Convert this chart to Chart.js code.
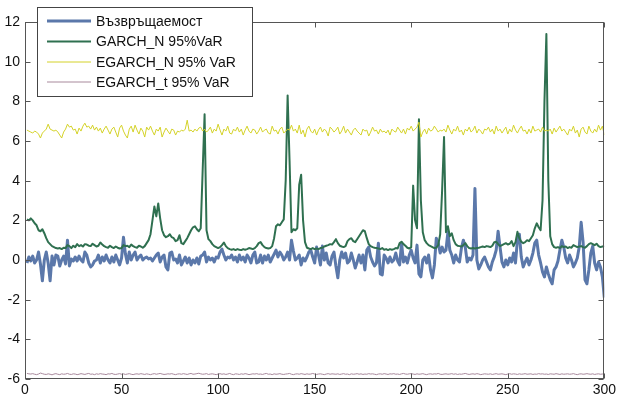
<!DOCTYPE html>
<html>
<head>
<meta charset="utf-8">
<script src="https://cdn.jsdelivr.net/npm/chart.js@4.4.1/dist/chart.umd.min.js"></script>
<style>
  html, body { margin: 0; padding: 0; background: #fff; }
  #wrap { width: 619px; height: 400px; }
</style>
</head>
<body>
<div id="wrap"><canvas id="myChart" width="619" height="400"></canvas></div>
<script>
// series names (legend)
const seriesLabels = ['Възвръщаемост', 'GARCH_N 95%VaR', 'EGARCH_N 95% VaR', 'EGARCH_t 95% VaR'];

// returns, t = 1..300
const returns = [
  -0.15,0.15,-0.05,0.2,-0.15,0.0,0.4,-0.2,-1.05,0.0,
  0.4,-0.15,-1.05,0.2,-0.25,0.25,0.2,-0.3,0.0,0.2,
  -0.2,1.0,-0.3,0.05,-0.05,0.15,-0.05,0.2,0.0,-0.1,
  0.4,0.25,-0.15,-0.35,-0.25,-0.05,0.0,0.25,-0.15,0.15,
  -0.05,0.25,0.0,-0.15,0.15,-0.1,0.25,0.0,-0.25,0.1,
  1.15,0.3,-0.15,0.4,0.0,0.25,0.4,0.0,0.15,0.25,
  0.0,0.1,0.15,0.05,0.1,-0.05,0.1,0.25,0.35,-0.1,
  0.15,0.25,-0.35,-0.5,0.35,0.4,0.0,0.05,-0.15,0.25,
  -0.25,-0.05,0.15,-0.15,0.1,-0.25,0.0,-0.15,0.1,-0.2,
  0.2,0.25,0.4,-0.1,0.15,0.0,0.1,-0.1,0.15,0.1,
  0.4,0.55,0.25,0.0,0.15,0.1,0.25,0.0,0.15,-0.1,
  0.25,0.0,0.15,-0.1,0.25,0.1,-0.15,0.25,0.4,-0.15,
  -0.1,0.25,-0.15,0.2,0.0,0.25,-0.1,0.1,0.3,0.5,
  0.15,0.4,0.25,0.0,0.15,0.4,0.0,1.0,0.45,0.0,
  0.1,0.25,-0.25,0.1,-0.05,0.15,0.4,0.5,0.15,-0.15,
  0.65,0.25,-0.25,0.7,0.0,0.35,-0.15,-0.25,0.2,0.4,
  -0.3,-0.9,0.0,0.4,0.1,0.35,-0.15,-0.05,0.35,0.0,
  -0.4,-0.1,0.25,-0.15,0.25,-0.5,0.5,0.65,0.15,-0.1,
  -0.3,-0.15,0.85,-0.7,-0.75,0.25,0.1,-0.15,0.15,-0.1,
  0.0,0.35,-0.05,-0.25,0.85,-0.1,0.15,-0.15,0.25,0.5,
  0.1,-0.15,0.75,-0.7,-0.85,0.0,0.15,-0.15,0.25,-0.5,
  -0.9,-0.25,1.1,0.85,0.35,0.65,0.4,0.5,1.4,0.5,
  0.25,-0.15,0.25,0.0,-0.1,0.6,1.0,0.65,-0.1,0.1,
  0.0,0.25,3.6,0.0,-0.45,-0.25,0.0,0.15,-0.1,-0.35,
  -0.5,-0.1,0.15,0.5,1.45,0.65,-0.1,-0.35,0.0,-0.25,
  0.1,-0.1,0.35,-0.15,1.0,1.3,0.15,-0.35,-0.1,0.1,
  -0.25,0.0,0.35,0.85,1.0,0.25,-0.15,-0.6,-0.85,-0.35,
  -0.7,-1.0,-1.2,-0.5,-0.35,-0.05,0.5,1.0,0.65,0.1,
  -0.15,0.25,0.0,-0.35,-0.15,0.1,0.65,1.9,0.9,-1.0,
  -1.2,-0.5,0.35,0.7,-0.15,-0.5,-0.1,-0.35,-0.85,-1.9
];

const garchN = [
  2.05,2.0,2.1,2.0,1.85,1.75,1.5,1.45,1.55,1.35,
  1.1,0.9,0.8,0.7,0.65,0.6,0.58,0.6,0.55,0.62,
  0.6,0.75,0.7,0.6,0.72,0.65,0.8,0.7,0.75,0.68,
  0.8,0.78,0.72,0.7,0.82,0.75,0.68,0.72,0.88,0.78,
  0.7,0.65,0.62,0.72,0.65,0.6,0.68,0.62,0.58,0.6,
  0.75,0.7,0.72,0.65,0.78,0.7,0.65,0.62,0.72,0.68,
  0.62,0.7,0.85,1.0,1.3,2.0,2.7,2.2,2.85,2.1,
  1.5,1.25,1.15,1.2,1.3,1.15,1.1,0.95,1.0,1.25,
  0.85,0.8,0.95,1.1,1.3,1.5,1.65,1.7,1.55,1.45,
  1.6,4.5,7.35,1.5,1.05,0.95,0.8,0.7,0.65,0.6,
  0.65,0.75,0.88,0.7,0.6,0.55,0.52,0.55,0.5,0.55,
  0.52,0.5,0.55,0.52,0.55,0.6,0.58,0.55,0.6,0.7,
  0.85,0.9,0.75,0.65,0.6,0.58,0.6,0.7,1.1,1.7,
  1.8,1.75,1.9,2.05,4.0,8.3,5.0,1.4,1.55,1.5,
  1.6,3.8,4.3,2.0,0.9,0.62,0.58,0.55,0.6,0.55,
  0.58,0.55,0.6,0.62,0.68,0.72,0.75,0.8,0.78,0.9,
  1.05,0.85,0.72,0.68,0.65,0.7,0.95,1.05,1.1,0.95,
  0.9,1.05,1.2,1.35,1.5,1.45,1.1,0.8,0.7,0.65,
  0.62,0.6,0.58,0.55,0.6,0.52,0.55,0.5,0.55,0.52,
  0.55,0.6,0.58,0.85,0.92,0.8,0.72,0.62,0.58,0.65,
  3.75,2.0,1.6,7.1,3.0,1.4,1.0,0.85,0.75,0.7,
  0.65,0.6,0.62,0.75,1.3,3.5,6.2,1.4,1.7,1.2,
  1.35,1.0,0.8,0.72,0.7,0.68,0.75,0.85,0.7,0.6,
  0.58,0.6,0.58,0.6,0.62,0.65,0.68,0.65,0.7,0.68,
  0.65,0.72,0.9,0.92,0.8,0.7,0.75,0.8,0.85,0.78,
  0.82,0.95,0.7,0.9,1.42,1.1,0.92,0.85,0.9,1.0,
  0.95,1.1,1.25,1.6,1.85,1.65,1.5,3.0,8.0,11.4,
  4.0,1.2,0.8,0.65,0.62,0.65,0.6,0.7,0.65,0.68,
  0.6,0.65,0.62,0.75,0.7,0.65,0.68,0.7,0.65,0.62,
  0.7,0.8,0.85,0.8,0.75,0.82,0.7,0.65,0.68,0.7
];

const egarchN = [
  6.55,6.5,6.45,6.4,6.5,6.45,6.35,6.15,6.4,6.5,6.6,6.85,6.6,6.55,6.5,6.55,6.45,6.3,6.15,6.45,
  6.6,6.85,6.7,6.75,6.55,6.6,6.35,6.65,6.5,6.75,6.9,6.7,6.75,6.6,6.8,6.55,6.7,6.5,6.65,6.4,
  6.6,6.75,6.55,6.35,6.6,6.7,6.45,6.2,6.65,6.8,6.5,6.3,6.15,6.6,6.75,6.45,6.8,6.55,6.35,6.65,
  6.5,6.2,6.7,6.55,6.75,6.5,6.3,6.6,6.5,6.7,6.2,6.45,6.65,6.5,6.35,6.6,6.55,6.3,6.5,6.45,
  6.55,6.5,6.6,7.05,6.5,6.55,6.45,6.6,6.5,6.65,6.7,6.5,6.6,6.45,6.55,6.7,6.4,6.6,6.5,6.85,
  6.55,6.3,6.6,6.5,6.75,6.4,6.35,6.6,6.5,6.7,6.45,6.6,6.3,6.55,6.75,6.5,6.4,6.6,6.55,6.35,
  6.5,6.7,6.45,6.55,6.6,6.4,6.35,6.75,6.5,6.55,6.35,6.6,6.7,6.4,6.5,6.6,6.55,6.8,6.5,6.6,
  6.4,6.8,6.35,6.55,6.2,6.6,6.75,6.5,6.4,6.6,6.3,6.55,6.7,6.45,6.6,6.5,6.25,6.7,6.6,6.45,
  6.55,6.7,6.35,6.5,6.75,6.4,6.6,6.45,6.3,6.55,6.65,6.5,6.4,6.3,6.6,6.5,6.55,6.25,6.45,6.7,
  6.5,6.55,6.35,6.6,6.45,6.5,6.4,6.55,6.3,6.6,6.5,6.45,6.7,6.55,6.4,6.6,6.35,6.65,6.55,6.75,
  6.5,6.6,6.7,6.95,6.2,6.45,6.6,6.35,6.65,6.5,6.55,6.75,6.6,6.45,6.55,6.5,6.6,6.45,6.8,6.55,
  6.35,6.6,6.5,6.75,6.45,6.55,6.3,6.6,6.5,6.7,6.45,6.55,6.75,6.4,6.6,6.5,6.35,6.6,6.55,6.7,
  6.45,6.6,6.35,6.75,6.5,6.6,6.4,6.55,6.7,6.35,6.6,6.45,6.8,6.55,6.4,6.6,6.75,6.5,6.55,6.35,
  6.6,6.4,6.75,6.5,6.55,6.6,6.45,6.7,6.5,6.55,6.5,6.6,6.35,6.65,6.45,6.6,6.75,6.5,6.6,6.45,
  6.3,6.6,6.5,6.75,6.4,6.55,6.2,6.6,6.7,6.45,6.35,6.75,6.5,6.4,6.6,6.45,6.8,6.55,6.75,6.3
];

const egarchT = [
  -5.72,-5.74,-5.75,-5.73,-5.76,-5.78,-5.75,-5.70,-5.73,-5.76,
  -5.77,-5.74,-5.76,-5.79,-5.75,-5.73,-5.76,-5.78,-5.74,-5.76,
  -5.75,-5.72,-5.76,-5.77,-5.74,-5.75,-5.78,-5.76,-5.73,-5.75,
  -5.77,-5.74,-5.72,-5.76,-5.75,-5.78,-5.74,-5.76,-5.73,-5.75,
  -5.76,-5.78,-5.74,-5.75,-5.72,-5.76,-5.77,-5.75,-5.73,-5.76,
  -5.74,-5.77,-5.75,-5.73,-5.76,-5.78,-5.75,-5.74,-5.76,-5.73,
  -5.75,-5.77,-5.74,-5.76,-5.78,-5.75,-5.73,-5.76,-5.74,-5.72,
  -5.75,-5.77,-5.76,-5.74,-5.75,-5.73,-5.76,-5.78,-5.75,-5.74,
  -5.76,-5.73,-5.75,-5.77,-5.74,-5.72,-5.76,-5.75,-5.73,-5.71,
  -5.74,-5.76,-5.75,-5.73,-5.77,-5.75,-5.74,-5.76,-5.78,-5.75,
  -5.73,-5.76,-5.74,-5.77,-5.75,-5.72,-5.76,-5.78,-5.74,-5.75,
  -5.77,-5.74,-5.76,-5.73,-5.75,-5.78,-5.76,-5.74,-5.75,-5.73,
  -5.76,-5.75,-5.77,-5.74,-5.72,-5.76,-5.75,-5.78,-5.74,-5.76,
  -5.75,-5.73,-5.76,-5.77,-5.75,-5.74,-5.72,-5.76,-5.78,-5.75,
  -5.74,-5.76,-5.73,-5.75,-5.77,-5.74,-5.76,-5.75,-5.72,-5.75,
  -5.77,-5.75,-5.74,-5.76,-5.78,-5.75,-5.73,-5.76,-5.74,-5.75,
  -5.76,-5.74,-5.77,-5.75,-5.73,-5.76,-5.75,-5.78,-5.74,-5.76,
  -5.75,-5.73,-5.76,-5.74,-5.77,-5.75,-5.76,-5.73,-5.75,-5.74,
  -5.76,-5.78,-5.75,-5.74,-5.76,-5.73,-5.75,-5.77,-5.74,-5.75,
  -5.73,-5.76,-5.75,-5.77,-5.74,-5.72,-5.75,-5.76,-5.74,-5.73,
  -5.75,-5.77,-5.74,-5.76,-5.75,-5.73,-5.76,-5.78,-5.75,-5.74,
  -5.76,-5.74,-5.75,-5.72,-5.76,-5.77,-5.75,-5.74,-5.76,-5.75,
  -5.73,-5.76,-5.74,-5.77,-5.75,-5.76,-5.74,-5.72,-5.75,-5.77,
  -5.75,-5.74,-5.76,-5.73,-5.75,-5.78,-5.76,-5.74,-5.75,-5.76,
  -5.74,-5.77,-5.75,-5.73,-5.76,-5.75,-5.74,-5.76,-5.78,-5.75,
  -5.73,-5.76,-5.74,-5.75,-5.77,-5.74,-5.76,-5.75,-5.73,-5.76,
  -5.75,-5.74,-5.77,-5.75,-5.76,-5.73,-5.75,-5.74,-5.76,-5.75,
  -5.77,-5.74,-5.75,-5.76,-5.73,-5.75,-5.77,-5.74,-5.76,-5.75,
  -5.74,-5.76,-5.75,-5.73,-5.76,-5.78,-5.75,-5.74,-5.76,-5.75,
  -5.73,-5.75,-5.76,-5.74,-5.77,-5.75,-5.74,-5.76,-5.75,-5.74
];

const seriesColors = ['#5b78aa', '#2f7050', '#d4d229', '#a8899c'];
const seriesWidths = [3, 2, 1, 1];
const allSeries = [returns, garchN, egarchN, egarchT];

const FONT = 'Liberation Sans, Arial, sans-serif';

// MATLAB style box, inward ticks and the legend box
const matlabFrame = {
  id: 'matlabFrame',
  afterDraw(chart) {
    const ctx = chart.ctx;
    const a = chart.chartArea;
    const xs = chart.scales.x, ys = chart.scales.y;
    ctx.save();
    ctx.strokeStyle = '#555';
    ctx.lineWidth = 1;
    const L = Math.round(a.left) + 0.5, R = Math.round(a.right) - 0.5;
    const T = Math.round(a.top) + 0.5, B = Math.round(a.bottom) - 0.5;
    ctx.strokeRect(L, T, R - L, B - T);
    ctx.beginPath();
    xs.ticks.forEach(t => {
      const px = Math.round(xs.getPixelForValue(t.value)) + 0.5;
      ctx.moveTo(px, B); ctx.lineTo(px, B - 5);
      ctx.moveTo(px, T); ctx.lineTo(px, T + 5);
    });
    ys.ticks.forEach(t => {
      const py = Math.round(ys.getPixelForValue(t.value)) + 0.5;
      ctx.moveTo(L, py); ctx.lineTo(L + 5, py);
      ctx.moveTo(R, py); ctx.lineTo(R - 5, py);
    });
    ctx.stroke();

    // legend
    const bx = 37.5, by = 7.5, bw = 215, bh = 89;
    ctx.fillStyle = '#fff';
    ctx.fillRect(bx, by, bw, bh);
    ctx.strokeStyle = '#444';
    ctx.strokeRect(bx, by, bw, bh);
    ctx.font = '14px ' + FONT;
    ctx.textBaseline = 'middle';
    ctx.textAlign = 'left';
    const rows = [21, 41.5, 62, 82];
    seriesLabels.forEach((lab, i) => {
      ctx.beginPath();
      ctx.strokeStyle = seriesColors[i];
      ctx.lineWidth = seriesWidths[i];
      ctx.moveTo(47, rows[i]); ctx.lineTo(91, rows[i]);
      ctx.stroke();
      ctx.fillStyle = '#111';
      ctx.fillText(lab, 96, rows[i] + 1);
    });
    ctx.restore();
  }
};

const datasets = allSeries.map((arr, i) => ({
  label: seriesLabels[i],
  data: arr.map((v, k) => ({ x: k + 1, y: v })),
  borderColor: seriesColors[i],
  borderWidth: seriesWidths[i],
  borderJoinStyle: 'round',
  pointRadius: 0,
  tension: 0,
  fill: false,
  order: 4 - i
}));

const ctx = document.getElementById('myChart').getContext('2d');
const myChart = new Chart(ctx, {
  type: 'line',
  data: { datasets: datasets },
  options: {
    responsive: false,
    animation: false,
    layout: { padding: { top: 22, right: 12, left: 0, bottom: 0 } },
    plugins: { legend: { display: false }, tooltip: { enabled: false } },
    scales: {
      x: {
        type: 'linear',
        min: 0, max: 300,
        ticks: { stepSize: 50, color: '#111', font: { family: FONT, size: 14 }, padding: 3, maxRotation: 0 },
        grid: { display: false, drawTicks: false, tickLength: 0 },
        border: { display: false },
        afterFit: s => { s.height = 21; }
      },
      y: {
        min: -6, max: 12,
        ticks: { stepSize: 2, color: '#111', font: { family: FONT, size: 14 }, padding: 5 },
        grid: { display: false, drawTicks: false, tickLength: 0 },
        border: { display: false },
        afterFit: s => { s.width = 25; }
      }
    }
  },
  plugins: [matlabFrame]
});
</script>
</body>
</html>
